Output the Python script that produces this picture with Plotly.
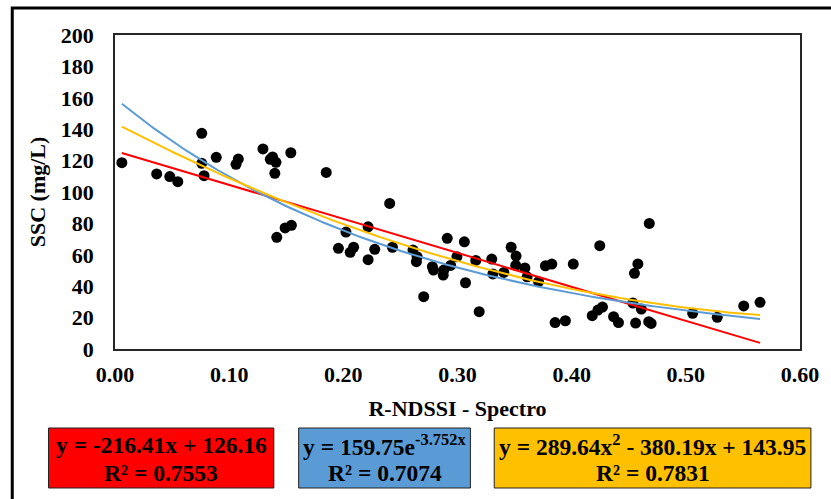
import numpy as np
import plotly.graph_objects as go

# ---- data ----
rndssi = [0.006, 0.0365, 0.048, 0.055, 0.076, 0.076, 0.078, 0.0887, 0.106, 0.108,
          0.1296, 0.136, 0.138, 0.141, 0.140, 0.154, 0.185, 0.1417, 0.149, 0.1545,
          0.2023, 0.1957, 0.206, 0.209, 0.2406, 0.2217, 0.2217, 0.2275, 0.243, 0.261,
          0.2646, 0.264, 0.278, 0.279, 0.288, 0.2875, 0.291, 0.306, 0.2995, 0.294,
          0.307, 0.2704, 0.319, 0.316, 0.330, 0.331, 0.3406, 0.347, 0.3513, 0.351,
          0.359, 0.361, 0.371, 0.377, 0.3826, 0.4014, 0.3855, 0.3945, 0.4246, 0.468,
          0.418, 0.423, 0.427, 0.4367, 0.441, 0.458, 0.455, 0.4536, 0.461, 0.456,
          0.4675, 0.4696, 0.506, 0.5275, 0.5507, 0.565]
ssc = [118.7, 111.5, 109.8, 106.6, 137.4, 118.3, 110.4, 122.1, 117.6, 121.0,
       127.4, 120.8, 122.3, 118.9, 111.9, 125.0, 112.5, 71.1, 77.1, 78.8,
       74.5, 64.1, 61.6, 64.8, 92.7, 77.8, 56.9, 63.5, 64.8, 63.0,
       58.8, 55.6, 52.4, 50.3, 50.3, 47.1, 70.5, 68.3, 58.8, 53.2,
       42.2, 33.3, 23.8, 56.4, 57.3, 47.8, 48.8, 64.8, 59.2, 53.2,
       51.6, 46.0, 42.9, 53.0, 54.1, 54.1, 16.8, 18.0, 65.8, 80.0,
       21.2, 24.8, 26.7, 20.6, 16.8, 54.2, 48.2, 29.3, 25.4, 16.5,
       17.4, 16.3, 22.7, 20.2, 27.4, 29.7]

lin_coef = [-216.41, 126.16]          # y = a*x + b
exp_coef = [159.75, -3.752]           # y = a*exp(b*x)
poly_coef = [289.64, -380.19, 143.95]  # y = a*x^2 + b*x + c

x_ticks = [0.0, 0.1, 0.2, 0.3, 0.4, 0.5, 0.6]
y_ticks = [0, 20, 40, 60, 80, 100, 120, 140, 160, 180, 200]

eq_lines = [
    ["<b>y = -216.41x + 126.16</b>", "<b>R² = 0.7553</b>"],
    ["<b>y = 159.75e<sup>-3.752x</sup></b>", "<b>R² = 0.7074</b>"],
    ["<b>y = 289.64x<sup>2</sup> - 380.19x + 143.95</b>", "<b>R² = 0.7831</b>"],
]

# ---- layout geometry ----
W, H = 831, 499
ML, MR, MT, MB = 115, 26, 35, 150
PW, PH = W - ML - MR, H - MT - MB
FONT = "Liberation Serif, Times New Roman, Times, DejaVu Serif, serif"


def px(xp):
    return (xp - ML) / PW


def py(yp):
    return (H - MB - yp) / PH


xs = np.linspace(min(rndssi), max(rndssi), 200)
y_lin = np.polyval(lin_coef, xs)
y_exp = exp_coef[0] * np.exp(exp_coef[1] * xs)
y_poly = np.polyval(poly_coef, xs)

fig = go.Figure()
fig.add_trace(go.Scatter(x=rndssi, y=ssc, mode="markers",
                         marker=dict(color="black", size=11), showlegend=False))
fig.add_trace(go.Scatter(x=xs, y=y_lin, mode="lines",
                         line=dict(color="#FF0000", width=2), showlegend=False))
fig.add_trace(go.Scatter(x=xs, y=y_exp, mode="lines",
                         line=dict(color="#5B9BD5", width=2), showlegend=False))
fig.add_trace(go.Scatter(x=xs, y=y_poly, mode="lines",
                         line=dict(color="#FFC000", width=2), showlegend=False))

tick_font = dict(family=FONT, size=22, color="black")
eq_font = dict(family=FONT, size=23.5, color="black")

fig.update_layout(
    width=W, height=H,
    margin=dict(l=ML, r=MR, t=MT, b=MB),
    paper_bgcolor="white", plot_bgcolor="white",
    xaxis=dict(range=[0, 0.6], tickvals=x_ticks,
               ticktext=["<b>%.2f</b>" % v for v in x_ticks],
               showgrid=False, zeroline=False, showline=True, mirror=True,
               linecolor="#262626", linewidth=1.5, ticks="",
               tickfont=tick_font, ticklabelstandoff=5,
               title=dict(text="<b>R-NDSSI - Spectro</b>", font=tick_font, standoff=14)),
    yaxis=dict(range=[0, 200], tickvals=y_ticks,
               ticktext=["<b>%d</b>" % v for v in y_ticks],
               showgrid=False, zeroline=False, showline=True, mirror=True,
               linecolor="#262626", linewidth=1.5, ticks="",
               tickfont=tick_font, ticklabelstandoff=15,
               title=dict(text="<b>SSC (mg/L)</b>", font=tick_font, standoff=9)),
)

shapes = []
# outer frame
shapes.append(dict(type="rect", xref="paper", yref="paper",
                   x0=px(11.5), x1=px(845), y0=py(515), y1=py(8),
                   line=dict(color="black", width=3), fillcolor="rgba(0,0,0,0)"))

boxes = [(48, 275, "#FF0000"), (300, 473, "#5B9BD5"), (497, 816, "#FFC000")]
annotations = []
for (x0, x1, col), lines in zip(boxes, eq_lines):
    shapes.append(dict(type="rect", xref="paper", yref="paper",
                       x0=px(x0), x1=px(x1), y0=py(488), y1=py(428),
                       line=dict(color="#222222", width=1), fillcolor=col, layer="above"))
    cx = (x0 + x1) / 2
    for text, yc in zip(lines, (445, 473)):
        annotations.append(dict(xref="paper", yref="paper", x=px(cx), y=py(yc),
                                text=text, showarrow=False, xanchor="center", yanchor="middle",
                                font=eq_font))

fig.update_layout(shapes=shapes, annotations=annotations)
fig.write_html("out.html")
